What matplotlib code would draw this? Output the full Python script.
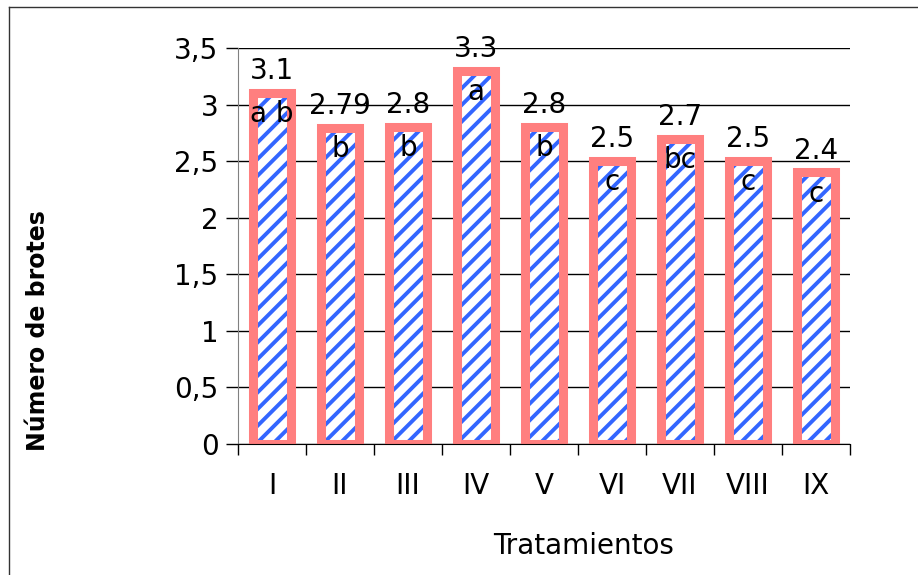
import matplotlib.pyplot as plt
from matplotlib.lines import Line2D

# Data
tratamientos = ['I', 'II', 'III', 'IV', 'V', 'VI', 'VII', 'VIII', 'IX']
brotes = [3.1, 2.79, 2.8, 3.3, 2.8, 2.5, 2.7, 2.5, 2.4]
valor_labels = ['3.1', '2.79', '2.8', '3.3', '2.8', '2.5', '2.7', '2.5', '2.4']
letras = ['a b', 'b', 'b', 'a', 'b', 'c', 'bc', 'c', 'c']

plt.rcParams['font.family'] = 'DejaVu Sans'
plt.rcParams['hatch.linewidth'] = 2.8

fig = plt.figure(figsize=(9.18, 5.75), dpi=100)
ax = fig.add_axes([238 / 918, 1 - 444 / 575, 612 / 918, 396 / 575])

x = list(range(len(tratamientos)))
# hatched fill
ax.bar(x, brotes, width=0.56, color='white', edgecolor='#3366ff', hatch='//', linewidth=0, zorder=2)
# thick salmon outline
ax.bar(x, brotes, width=0.56, fill=False, edgecolor='#ff7f7f', linewidth=6.5, zorder=3)

for xi, v, lab, let in zip(x, brotes, valor_labels, letras):
    ax.annotate(lab, (xi, v), xytext=(0, 10), textcoords='offset points',
                ha='center', va='baseline', fontsize=20, zorder=4)
    ax.annotate(let, (xi, v), xytext=(0, -21), textcoords='offset points',
                ha='center', va='baseline', fontsize=20, zorder=4)

ax.set_xlim(-0.5, len(tratamientos) - 0.5)
ax.set_ylim(0, 3.5)
ax.set_yticks([0, 0.5, 1, 1.5, 2, 2.5, 3, 3.5])
ax.set_yticklabels(['0', '0,5', '1', '1,5', '2', '2,5', '3', '3,5'], fontsize=20)
ax.yaxis.grid(True, color='black', linewidth=1)
ax.set_axisbelow(True)

ax.set_xticks(x)
ax.set_xticklabels(tratamientos, fontsize=20)
ax.tick_params(axis='x', which='major', length=0, pad=20)
ax.set_xticks([i - 0.5 for i in range(len(tratamientos) + 1)], minor=True)
ax.tick_params(axis='x', which='minor', length=8, width=1, color='black')
ax.tick_params(axis='y', length=9, width=1, color='black', pad=5)

for s in ['top', 'right']:
    ax.spines[s].set_visible(False)
ax.spines['left'].set_color('#808080')
ax.spines['bottom'].set_color('black')
ax.spines['bottom'].set_zorder(5)

fig.text(584 / 918, 1 - 546 / 575, 'Tratamientos', ha='center', va='center', fontsize=20)
fig.text(38 / 918, 1 - 331 / 575, 'Número de brotes', ha='center', va='center',
         rotation=90, fontsize=17, fontweight='bold')

# outer frame (only left and top edges visible)
fig.add_artist(Line2D([9 / 918, 9 / 918], [0, 1 - 7 / 575], color='#333333', linewidth=1))
fig.add_artist(Line2D([9 / 918, 1], [1 - 7 / 575, 1 - 7 / 575], color='#333333', linewidth=1))

plt.savefig('out.png', dpi=100)
